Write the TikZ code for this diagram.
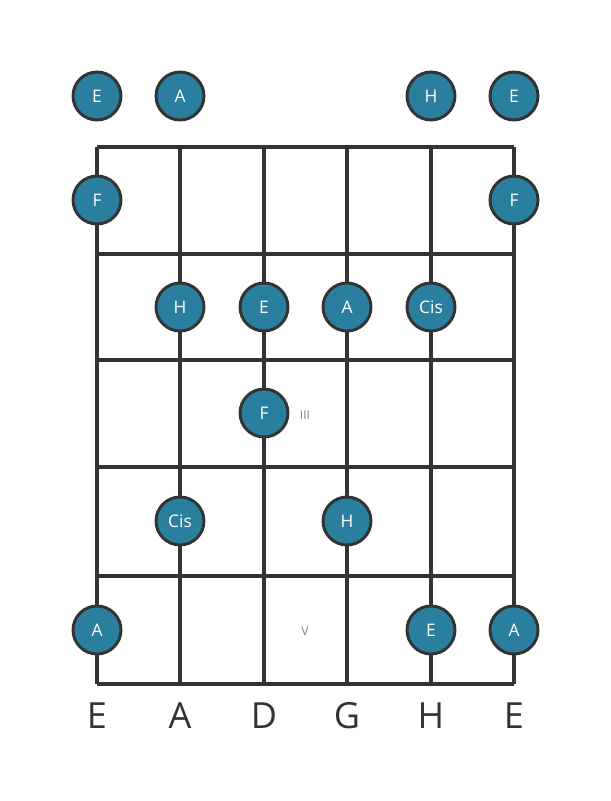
\documentclass[tikz,border=0pt]{standalone}
\usepackage{fontspec}
\setmainfont{Open Sans}
\definecolor{dotblue}{HTML}{2A7F9E}
\definecolor{gridgray}{HTML}{333333}
\tikzset{
  note/.style={circle, draw=gridgray, line width=2.2pt, fill=dotblue, minimum size=36pt, inner sep=0pt, text=white, font=\fontsize{13}{13}\selectfont},
  fretmark/.style={text=gray, font=\fontsize{9}{9}\selectfont},
  stringname/.style={text=gridgray, font=\fontsize{27}{27}\selectfont}
}
\begin{document}
\begin{tikzpicture}[x=0.75pt,y=-0.75pt]
  \useasboundingbox (0,0) rectangle (611,801);

  % strings
  \foreach \x in {97,180,264,347,431,514}
    \draw[gridgray, line width=2.4pt] (\x,147) -- (\x,684);
  % frets
  \foreach \y in {147,254,360,467,576,684}
    \draw[gridgray, line width=3.4pt] (97,\y) -- (514,\y);

  % open strings
  \node[note] (o1) at (97,96) {E};
  \node[note] (o2) at (180,96) {A};
  \node[note] (o5) at (431,96) {H};
  \node[note] (o6) at (514,96) {E};

  % fret 1
  \node[note] (a1) at (97,200) {F};
  \node[note] (a6) at (514,200) {F};

  % fret 2
  \node[note] (b2) at (180,307) {H};
  \node[note] (b3) at (264,307) {E};
  \node[note] (b4) at (347,307) {A};
  \node[note] (b5) at (431,307) {Cis};

  % fret 3
  \node[note] (c3) at (264,413) {F};
  \node[fretmark] (m3) at (305,415) {III};

  % fret 4
  \node[note] (d2) at (180,521) {Cis};
  \node[note] (d4) at (347,521) {H};

  % fret 5
  \node[note] (e1) at (97,630) {A};
  \node[note] (e5) at (431,630) {E};
  \node[note] (e6) at (514,630) {A};
  \node[fretmark] (m5) at (305,631) {V};

  % string names
  \node[stringname] (s1) at (97,716) {E};
  \node[stringname] (s2) at (180,716) {A};
  \node[stringname] (s3) at (264,716) {D};
  \node[stringname] (s4) at (347,716) {G};
  \node[stringname] (s5) at (431,716) {H};
  \node[stringname] (s6) at (514,716) {E};
\end{tikzpicture}
\end{document}
